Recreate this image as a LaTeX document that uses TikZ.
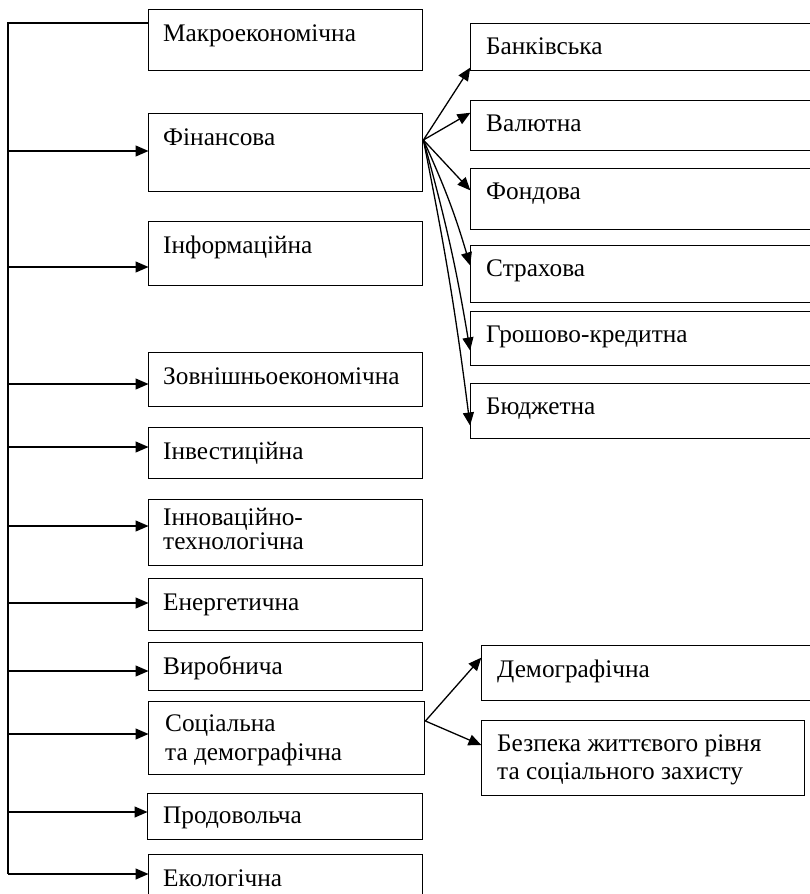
\documentclass[tikz,border=0pt]{standalone}
\usepackage{fontspec}
\setmainfont{Liberation Serif}
\newfontfamily\dserif{Liberation Serif}
\usetikzlibrary{arrows.meta}
\begin{document}
\begin{tikzpicture}[x=1pt,y=-1pt,
  box/.style={draw, line width=1.4pt, rectangle, anchor=north west, inner sep=0pt},
  txt/.style={anchor=base west, inner sep=0pt, font=\dserif\fontsize{25.3}{28}\selectfont, align=left},
  conn/.style={line width=1.3pt},
  arr/.style={line width=1.3pt, -{Triangle[length=13pt,width=11pt]}, shorten >=-0.5pt}
]
\useasboundingbox (0,0) rectangle (810,894);
\clip (0,0) rectangle (810,894);
% left column boxes
\newcommand{\lbox}[4]{\node[box, minimum width=274pt, minimum height=#3pt] (#1) at (148,#2) {};
  \node[txt] (#1-t) at ([xshift=15pt,yshift=-32pt]#1.north west) {#4};}
\lbox{macro}{9}{61}{Макроекономічна}
\lbox{fin}{113}{78}{Фінансова}
\lbox{info}{221}{64}{Інформаційна}
\lbox{zovn}{352}{54}{Зовнішньоекономічна}
\lbox{invest}{427}{51}{Інвестиційна}
\node[box, minimum width=274pt, minimum height=66pt] (innov) at (148,499) {};
\node[txt, font=\dserif\fontsize{25.3}{24}\selectfont] (innov-t) at ([xshift=15pt,yshift=-50pt]innov.north west) {Інноваційно-\\технологічна};
\lbox{energy}{578}{52}{Енергетична}
\lbox{vyrob}{642}{48}{Виробнича}
\node[box, minimum width=276pt, minimum height=73pt] (soc) at (148,701) {};
\node[txt, font=\dserif\fontsize{25.3}{29}\selectfont] (soc-t) at ([xshift=17pt,yshift=-59pt]soc.north west) {Соціальна\\та демографічна};
\node[box, minimum width=275pt, minimum height=46pt] (prod) at (147,793) {};
\node[txt] (prod-t) at ([xshift=16pt,yshift=-30pt]prod.north west) {Продовольча};
\lbox{eco}{854}{46}{Екологічна}
% right column boxes
\newcommand{\rbox}[4]{\node[box, minimum width=340pt, minimum height=#3pt] (#1) at (470,#2) {};
  \node[txt] (#1-t) at ([xshift=16pt,yshift=-31pt]#1.north west) {#4};}
\rbox{bank}{23}{47}{Банківська}
\rbox{val}{100}{50}{Валютна}
\rbox{fond}{168}{61}{Фондова}
\rbox{strakh}{245}{57}{Страхова}
\rbox{grosh}{311}{54}{Грошово-кредитна}
\rbox{budg}{383}{55}{Бюджетна}
% social sub-boxes
\node[box, minimum width=335pt, minimum height=55pt] (demo) at (481,645) {};
\node[txt] (demo-t) at ([xshift=16pt,yshift=-32pt]demo.north west) {Демографічна};
\node[box, minimum width=323pt, minimum height=75pt] (bezp) at (481,720) {};
\node[txt] (bezp-t) at ([xshift=16pt,yshift=-59pt]bezp.north west) {Безпека життєвого рівня\\та соціального захисту};
% trunk
\coordinate (ttop) at (8,23);
\coordinate (tbot) at (8,874);
\draw[conn] (ttop -| macro.west) -- (ttop) -- (tbot);
\foreach \n/\y in {fin/151, info/267, zovn/384, invest/447, innov/526, energy/603, vyrob/671, soc/734, prod/812, eco/874}
  \draw[arr] (ttop |- 0,\y) -- (\n.west |- 0,\y);
% financial sub-arrows
\coordinate (fs) at (fin.east |- 0,140);
\draw[arr] (fs) -- (bank.west |- 0,68);
\draw[arr] (fs) -- (val.west |- 0,113);
\draw[arr] (fs) -- (fond.west |- 0,190);
\draw[arr] (fs) to[bend left=4] (strakh.west |- 0,265);
\draw[arr] (fs) to[bend left=3] (grosh.west |- 0,350);
\draw[arr] (fs) to[bend left=2] (budg.west |- 0,425);
% social sub-arrows
\coordinate (ss) at (soc.east |- 0,721);
\draw[arr] (ss) -- (demo.west |- 0,658);
\draw[arr] (ss) -- (bezp.west |- 0,745);
\end{tikzpicture}
\end{document}
